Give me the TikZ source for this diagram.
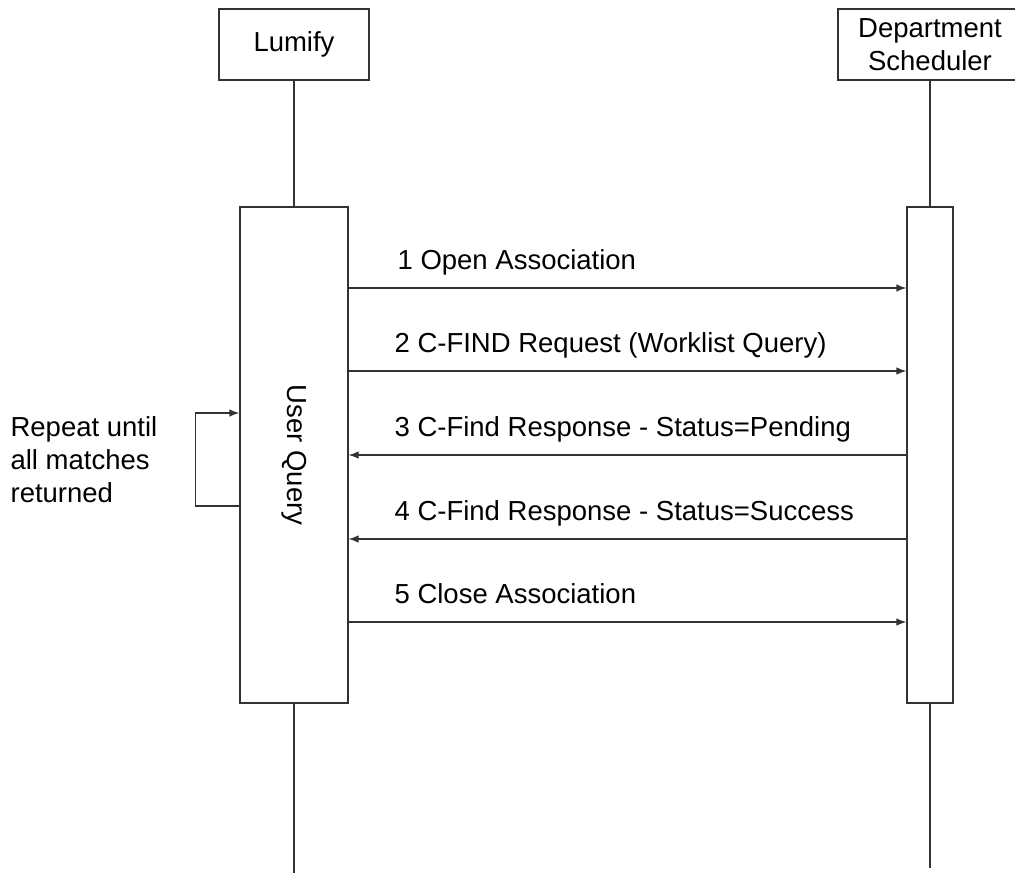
\documentclass[tikz,border=0pt]{standalone}
\usepackage{fontspec}
\setmainfont{Liberation Sans}
\usetikzlibrary{arrows.meta}

\begin{document}
\begin{tikzpicture}[x=1bp, y=-1bp, line width=1.2bp, draw=black!80,
every node/.style={font=\fontsize{27.5bp}{33bp}\selectfont, inner sep=0pt},
actor/.style={draw, rectangle, align=center},
activation/.style={draw, rectangle, minimum width=#1},
msg/.style={-{Latex[length=10bp,width=7.5bp]}},
msglabel/.style={anchor=base west}]
\useasboundingbox (0,0) rectangle (1015,874);

% participants
\node[actor, minimum width=150bp, minimum height=71bp] (lumify) at (294,44.5) {Lumify};
\node[actor, minimum width=184bp, minimum height=71bp] (dept) at (930,44.5) {Department\\Scheduler};

% activation boxes
\node[activation=108bp, minimum height=496bp] (uq) at (294,455) {};
\node[rotate=-90] (uqtext) at (uq.center) {User Query};
\node[activation=46bp, minimum height=496bp] (ds) at (930,455) {};

% lifelines
\coordinate (lumEnd) at (294,873);
\coordinate (deptEnd) at (930,868);
\draw (lumify.south) -- (uq.north);
\draw (uq.south) -- (lumEnd);
\draw (dept.south) -- (ds.north);
\draw (ds.south) -- (deptEnd);

% messages
\node[msglabel] (m1) at (397,269) {1 Open Association};
\draw[msg] (uq.east |- 0,288) -- (ds.west |- 0,288);
\node[msglabel] (m2) at (394,352) {2 C-FIND Request (Worklist Query)};
\draw[msg] (uq.east |- 0,371) -- (ds.west |- 0,371);
\node[msglabel] (m3) at (394,436) {3 C-Find Response - Status=Pending};
\draw[msg] (ds.west |- 0,455) -- (uq.east |- 0,455);
\node[msglabel] (m4) at (394,520) {4 C-Find Response - Status=Success};
\draw[msg] (ds.west |- 0,539) -- (uq.east |- 0,539);
\node[msglabel] (m5) at (394,603) {5 Close Association};
\draw[msg] (uq.east |- 0,622) -- (ds.west |- 0,622);

% repeat loop
\draw[msg] ([yshift=-51bp]uq.west) -- ++(-44,0) |- ([yshift=42bp]uq.west);
\node[anchor=west, align=left] (note) at (10,460) {Repeat until\\all matches\\returned};
\end{tikzpicture}
\end{document}
